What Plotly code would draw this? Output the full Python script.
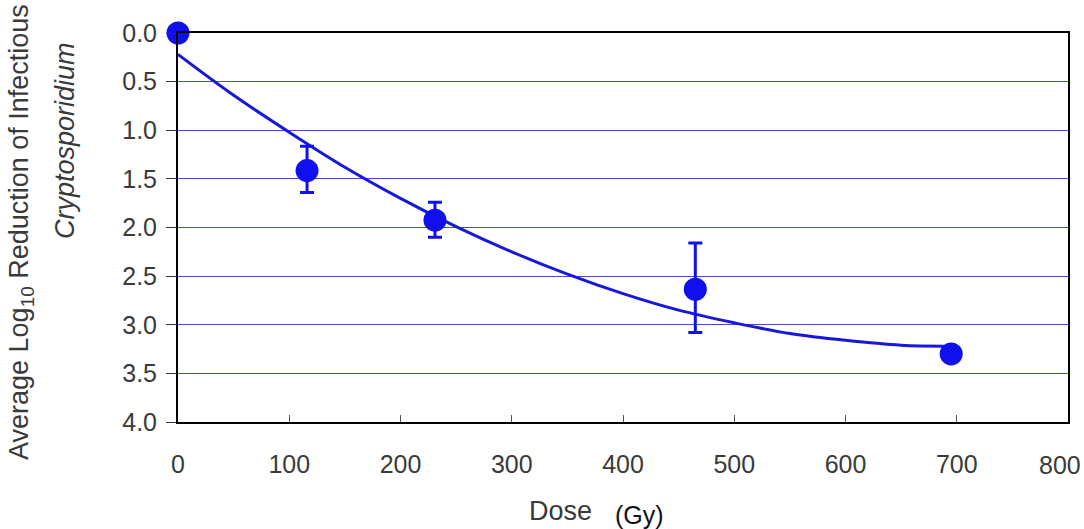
import plotly.graph_objects as go

# Measured data (dose in Gy, average log10 reduction)
dose = [0, 116, 231, 465, 695]
reduction = [0.0, 1.415, 1.925, 2.635, 3.30]
err_plus = [0, 0.225, 0.175, 0.445, 0]
err_minus = [0, 0.25, 0.185, 0.475, 0]

# Trend curve
fit_dose = [0, 50, 100, 150, 200, 250, 300, 350, 400, 450, 500, 550, 600, 650, 690]
fit_value = [0.22, 0.64, 1.02, 1.38, 1.70, 1.99, 2.25, 2.48, 2.68, 2.85, 2.98, 3.09, 3.16, 3.21, 3.22]

x_ticks = [0, 100, 200, 300, 400, 500, 600, 700, 800]
x_tick_text = [str(v) for v in x_ticks]
y_ticks = [0.0, 0.5, 1.0, 1.5, 2.0, 2.5, 3.0, 3.5, 4.0]
y_tick_text = [f"{v:.1f}" for v in y_ticks]

FONT = "Liberation Sans, Arial, sans-serif"
TXT = "#3a3a3a"
BLUE = "#1010ee"

fig = go.Figure()

fig.add_trace(go.Scatter(
    x=fit_dose, y=fit_value, mode="lines",
    line=dict(color="#1818d8", width=3, shape="spline"),
    hoverinfo="skip", showlegend=False,
))

fig.add_trace(go.Scatter(
    x=dose, y=reduction, mode="markers",
    marker=dict(color=BLUE, size=23),
    error_y=dict(type="data", symmetric=False, array=err_plus, arrayminus=err_minus,
                 color=BLUE, thickness=3, width=7),
    cliponaxis=False, showlegend=False,
))

# the last x tick (800) sits on the right border and at the page edge:
# its label is drawn right-aligned so it is not cut
fig.update_layout(
    width=1084, height=529,
    margin=dict(l=178, r=16, t=33, b=107, autoexpand=False),
    plot_bgcolor="white", paper_bgcolor="white",
    font=dict(family=FONT, size=26, color=TXT),
    xaxis=dict(
        range=[0, 800], tickvals=x_ticks[:-1], ticktext=x_tick_text[:-1],
        showgrid=False, zeroline=False, automargin=False,
        showline=True, linecolor="black", linewidth=2, mirror=True,
        ticks="inside", ticklen=7, tickcolor="#555", tickwidth=1,
        tickfont=dict(family=FONT, size=25, color=TXT),
        ticklabelstandoff=19, ticklabeloverflow="allow",
    ),
    yaxis=dict(
        range=[4.0, 0.0], tickvals=y_ticks, ticktext=y_tick_text,
        showgrid=True, gridcolor="#4a4ad0", gridwidth=1, zeroline=False, automargin=False,
        showline=True, linecolor="black", linewidth=2, mirror=True,
        ticks="outside", ticklen=10, tickcolor="#333", tickwidth=1,
        tickfont=dict(family=FONT, size=25, color=TXT),
        ticklabelstandoff=4, ticklabeloverflow="allow",
    ),
    annotations=[
        dict(text=x_tick_text[-1], xref="paper", yref="paper",
             x=(1083 - 178) / 890, y=-(465 - 422) / 389,
             xanchor="right", yanchor="middle", showarrow=False,
             font=dict(family=FONT, size=25, color=TXT)),
        dict(text="Average Log<sub>10</sub> Reduction of Infectious",
             xref="paper", yref="paper", x=-176/890, y=(422 - 232) / 389,
             xanchor="left", yanchor="middle", textangle=-90, showarrow=False,
             font=dict(family=FONT, size=27, color=TXT)),
        dict(text="<i>Cryptosporidium</i>",
             xref="paper", yref="paper", x=-130/890, y=(422 - 141) / 389,
             xanchor="left", yanchor="middle", textangle=-90, showarrow=False,
             font=dict(family=FONT, size=27, color=TXT)),
        dict(text="Dose", xref="paper", yref="paper",
             x=(527 - 178) / 890, y=-(528 - 422) / 389,
             xanchor="left", yanchor="bottom", showarrow=False,
             font=dict(family=FONT, size=27, color=TXT)),
        dict(text="(Gy)", xref="paper", yref="paper",
             x=(613 - 178) / 890, y=-(531 - 422) / 389,
             xanchor="left", yanchor="bottom", showarrow=False,
             font=dict(family=FONT, size=25, color="#111")),
    ],
)

fig.write_html("out.html")
